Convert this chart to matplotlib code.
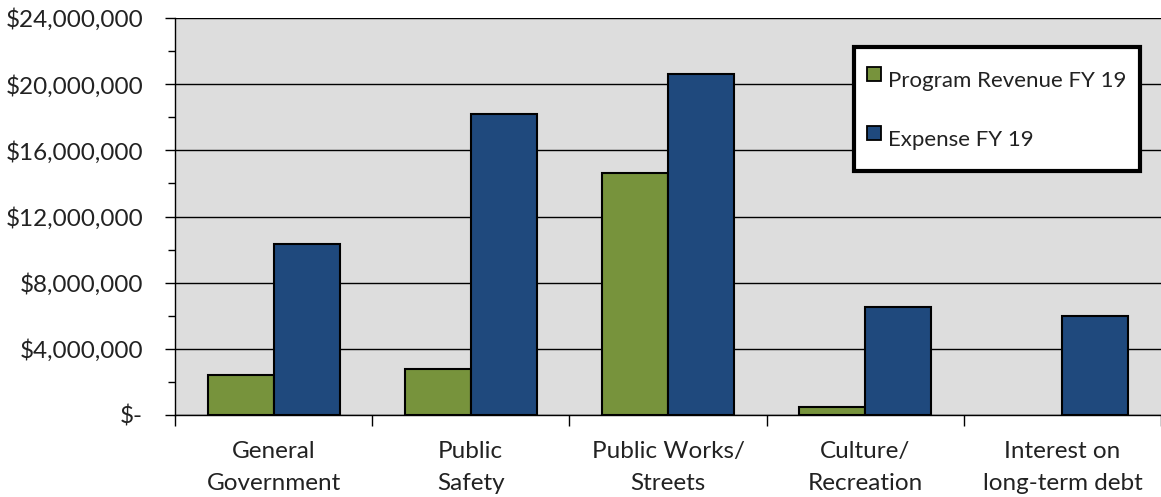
import numpy as np
import matplotlib.pyplot as plt
from matplotlib.lines import Line2D
from matplotlib.ticker import FuncFormatter, MultipleLocator

categories = ["General\nGovernment", "Public\nSafety", "Public Works/\nStreets",
              "Culture/\nRecreation", "Interest on\nlong-term debt"]
revenue = [2_420_000, 2_800_000, 14_600_000, 480_000, 0]
expense = [10_350_000, 18_200_000, 20_620_000, 6_530_000, 5_980_000]
series_names = ["Program Revenue FY 19", "Expense FY 19"]
colors = ['#77933c', '#1f497d']

plt.rcParams['font.family'] = ['Lato', 'DejaVu Sans']

fig = plt.figure(figsize=(11.61, 4.97), dpi=100)
ax = fig.add_axes([175 / 1161, 82 / 497, 986 / 1161, 397 / 497])
ax.set_facecolor('#dddddd')

x = np.arange(len(categories))
w = 0.335
ax.bar(x - w / 2, revenue, w, color=colors[0], edgecolor='black',
       linewidth=[1.5 if v > 0 else 0 for v in revenue], zorder=3)
ax.bar(x + w / 2, expense, w, color=colors[1], edgecolor='black', linewidth=1.5, zorder=3)

ax.set_xlim(-0.5, len(categories) - 0.5)
ax.set_ylim(0, 24_000_000)
ax.yaxis.set_major_locator(MultipleLocator(4_000_000))
ax.yaxis.set_minor_locator(MultipleLocator(2_000_000))
ax.yaxis.set_major_formatter(FuncFormatter(lambda v, p: "$-" if v == 0 else f"${v:,.0f}"))
ax.grid(axis='y', which='major', color='black', linewidth=1, zorder=0)

ax.set_xticks(np.arange(-0.5, len(categories), 1.0))
ax.set_xticklabels([])
ax.set_xticks(x, minor=True)
ax.set_xticklabels(categories, minor=True, fontsize=17.5, color='#222222', linespacing=1.6)
ax.tick_params(axis='x', which='major', length=8, width=1, direction='out')
ax.tick_params(axis='x', which='minor', length=0, pad=19)
ax.tick_params(axis='y', which='major', length=7, width=1, pad=16,
               labelsize=17.5, labelcolor='#222222')
ax.tick_params(axis='y', which='minor', length=5, width=1)

for s in ['top', 'right']:
    ax.spines[s].set_visible(False)
ax.spines['left'].set_linewidth(1)
ax.spines['bottom'].set_linewidth(1)

handles = [Line2D([], [], linestyle='none', marker='s', markersize=9.5,
                  markerfacecolor=c, markeredgecolor='black', markeredgewidth=1.3)
           for c in colors]
leg = ax.legend(handles, series_names, loc='upper left', bbox_to_anchor=(0.6886, 0.927),
                fontsize=16, frameon=True, fancybox=False, edgecolor='black', framealpha=1,
                handlelength=0.6, handleheight=2.24, handletextpad=0.32,
                labelspacing=0.96, borderpad=0.62, borderaxespad=0)
leg.get_frame().set_linewidth(3)
for t in leg.get_texts():
    t.set_color('#222222')

fig.savefig('out.png', dpi=100)
